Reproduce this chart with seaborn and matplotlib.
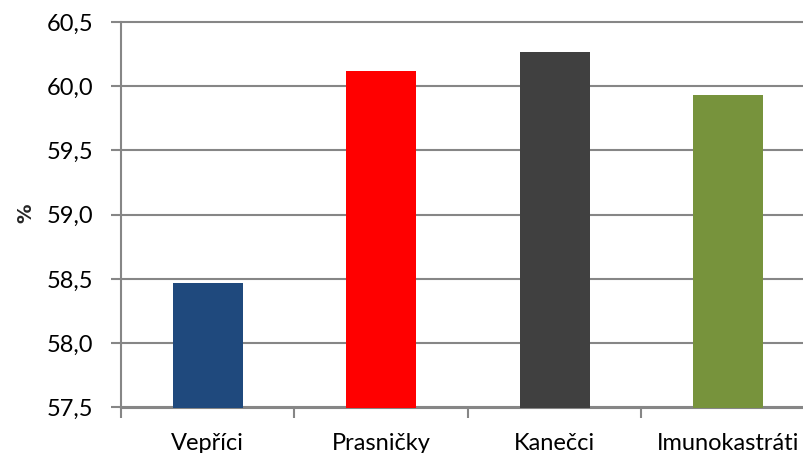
import matplotlib
matplotlib.use("Agg")
import matplotlib.pyplot as plt
import matplotlib.ticker as mticker
import seaborn as sns
import pandas as pd

# Podíl libové svaloviny podle pohlaví (%)
categories = ["Vepříci", "Prasničky", "Kanečci", "Imunokastráti"]
values = [58.47, 60.12, 60.27, 59.93]
colors = ["#1F497D", "#FF0000", "#404040", "#77933C"]
y_ticks = [57.5, 58.0, 58.5, 59.0, 59.5, 60.0, 60.5]

sns.set_theme(style="white")
plt.rcParams["font.family"] = ["Lato", "DejaVu Sans"]

df = pd.DataFrame({"skupina": categories, "hodnota": values})

fig = plt.figure(figsize=(8.04, 4.53), dpi=100)
ax = fig.add_axes([121 / 804, 45.5 / 453, 694 / 804, 385.5 / 453])

sns.barplot(data=df, x="skupina", y="hodnota", hue="skupina",
            palette=colors, order=categories, hue_order=categories,
            width=0.403, legend=False, saturation=1, linewidth=0,
            ax=ax, zorder=3)

grid_color = "#868686"
ax.set_ylim(57.5, 60.5)
ax.set_xlim(-0.5, len(categories) - 0.5)
ax.set_yticks(y_ticks)
ax.yaxis.set_major_formatter(mticker.FuncFormatter(lambda v, p: f"{v:.1f}".replace(".", ",")))
for y in y_ticks:
    ax.axhline(y, color=grid_color, lw=1.5, zorder=1, clip_on=False)

# category boundaries as tick marks, labels centred between them
ax.set_xticks([i - 0.5 for i in range(len(categories) + 1)])
ax.set_xticklabels([])
ax.set_xticks(range(len(categories)), minor=True)
ax.set_xticklabels(categories, minor=True)
ax.tick_params(axis="x", which="major", direction="out", length=7, width=1.5,
               color=grid_color, bottom=True)
ax.tick_params(axis="x", which="minor", length=0, pad=18.5, labelsize=17, labelcolor="black")
ax.tick_params(axis="y", direction="out", length=7, width=1.5, color=grid_color,
               left=True, pad=13, labelsize=17, labelcolor="black")

for s in ["top", "right"]:
    ax.spines[s].set_visible(False)
for s in ["left", "bottom"]:
    ax.spines[s].set_color(grid_color)
    ax.spines[s].set_linewidth(1.5)

ax.set_xlabel("")
ax.set_ylabel("")
fig.text(26 / 804, 1 - 213 / 453, "%", rotation=90, fontsize=14, fontweight="bold",
         family=["DejaVu Sans"], ha="center", va="center")

fig.savefig("out.png", dpi=100)
